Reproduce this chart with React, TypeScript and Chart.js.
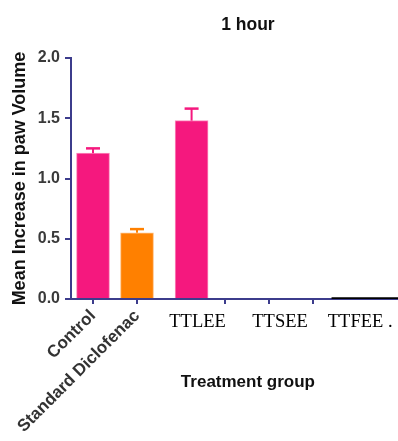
import React, { useEffect, useRef } from "react";
import { Chart, registerables } from "chart.js";

Chart.register(...registerables);

const chartTitle = "1 hour";
const yAxisTitle = "Mean Increase in paw Volume";
const xAxisTitle = "Treatment group";

const tickValues = [0, 1, 3, 4, 5];
const tickLabels = ["Control", "Standard Diclofenac", "", "", ""];

const barLabels = ["Control", "Standard Diclofenac", "TTLEE"];
const barPositions = [0, 1, 2.24];
const meanValues = [1.21, 0.55, 1.48];
const semValues = [0.04, 0.03, 0.1];
const barColors = ["#F5187E", "#FF8000", "#F5187E"];
const barEdgeColors = ["#FB8DBE", "#FFBF80", "#FB8DBE"];

const groupLabels = ["TTLEE", "TTSEE", "TTFEE ."];
const groupLabelPositions = [2.375, 4.25, 6.07];

const baselineSegment = [5.42, 6.93];

const yMin = 0;
const yMax = 2;
const yStep = 0.5;
const xMin = -0.5;
const xMax = 6.93;

const NAVY = "#3C3C8C";
const SANS = '"Liberation Sans", Arial, sans-serif';
const SERIF = '"Liberation Serif", "Times New Roman", serif';

const overlayPlugin = {
  id: "overlay",
  afterDatasetsDraw(chart: any) {
    const ctx = chart.ctx;
    const meta = chart.getDatasetMeta(0);
    const yScale = chart.scales.y;
    ctx.save();
    meta.data.forEach((el: any, i: number) => {
      const top = yScale.getPixelForValue(meanValues[i] + semValues[i]);
      ctx.strokeStyle = barColors[i];
      ctx.lineWidth = 2;
      ctx.beginPath();
      ctx.moveTo(el.x, el.y);
      ctx.lineTo(el.x, top);
      ctx.stroke();
      ctx.lineWidth = 2.5;
      ctx.beginPath();
      ctx.moveTo(el.x - 7, top);
      ctx.lineTo(el.x + 7, top);
      ctx.stroke();
    });
    ctx.restore();
  },
  afterDraw(chart: any) {
    const ctx = chart.ctx;
    const xScale = chart.scales.x;
    const area = chart.chartArea;
    ctx.save();
    ctx.fillStyle = "#000";
    ctx.textAlign = "center";
    ctx.textBaseline = "alphabetic";
    ctx.font = `18.5px ${SERIF}`;
    groupLabels.forEach((t, i) => {
      ctx.fillText(t, xScale.getPixelForValue(groupLabelPositions[i]), area.bottom + 27.5);
    });
    ctx.fillStyle = "#111";
    ctx.font = `bold 17px ${SANS}`;
    ctx.fillText(xAxisTitle, xScale.getPixelForValue(3.52), area.bottom + 87.5);
    ctx.font = `bold 17.5px ${SANS}`;
    ctx.fillText(chartTitle, xScale.getPixelForValue(3.52), area.top - 28.5);
    ctx.restore();
  },
};

export default function App() {
  const ref = useRef<HTMLCanvasElement | null>(null);

  useEffect(() => {
    if (!ref.current) return;
    const chart = new Chart(ref.current, {
      type: "bar",
      data: {
        datasets: [
          {
            type: "bar",
            label: "Mean",
            data: barPositions.map((x, i) => ({ x, y: meanValues[i] })) as any,
            backgroundColor: barColors,
            borderColor: barEdgeColors,
            borderWidth: 1,
            barThickness: 33,
            order: 1,
          } as any,
          {
            type: "line",
            label: "baseline",
            data: baselineSegment.map((x) => ({ x, y: 0 })) as any,
            borderColor: "#000",
            borderWidth: 3.5,
            pointRadius: 0,
            order: 0,
          } as any,
        ],
      },
      options: {
        animation: false,
        responsive: true,
        maintainAspectRatio: false,
        layout: { padding: { top: 58, right: 0, left: 0, bottom: 0 } },
        plugins: {
          legend: { display: false },
          tooltip: { enabled: false },
          title: { display: false },
        },
        scales: {
          x: {
            type: "linear",
            min: xMin,
            max: xMax,
            offset: false,
            afterBuildTicks: (scale: any) => {
              scale.ticks = tickValues.map((v) => ({ value: v }));
            },
            afterFit: (scale: any) => {
              scale.height = 142;
            },
            ticks: {
              autoSkip: false,
              maxRotation: 45,
              minRotation: 45,
              padding: 2,
              color: "#333",
              font: { family: SANS, size: 17, weight: "bold" },
              callback: (v: any) => {
                const idx = tickValues.indexOf(Number(v));
                return idx >= 0 ? tickLabels[idx] : "";
              },
            },
            grid: {
              offset: false,
              drawOnChartArea: false,
              drawTicks: true,
              tickLength: 5,
              color: NAVY,
              lineWidth: 2,
            },
            border: { display: true, color: NAVY, width: 2 },
          },
          y: {
            type: "linear",
            min: yMin,
            max: yMax,
            afterFit: (scale: any) => {
              scale.width = 71;
            },
            ticks: {
              stepSize: yStep,
              padding: 5,
              color: "#3a3a3a",
              font: { family: SANS, size: 16, weight: "bold" },
              callback: (v: any) => Number(v).toFixed(1),
            },
            grid: {
              drawOnChartArea: false,
              drawTicks: true,
              tickLength: 6,
              color: NAVY,
              lineWidth: 2,
            },
            border: { display: true, color: NAVY, width: 2 },
            title: {
              display: true,
              text: yAxisTitle,
              color: "#111",
              font: { family: SANS, size: 18, weight: "bold" },
              padding: { top: 9, bottom: 0 },
            },
          },
        },
      } as any,
      plugins: [overlayPlugin],
    });
    return () => chart.destroy();
  }, []);

  return (
    <div style={{ position: "absolute", left: 0, top: 0, width: 398, height: 441, background: "#fff" }}>
      <canvas ref={ref} aria-label={barLabels.join(", ")} />
    </div>
  );
}
